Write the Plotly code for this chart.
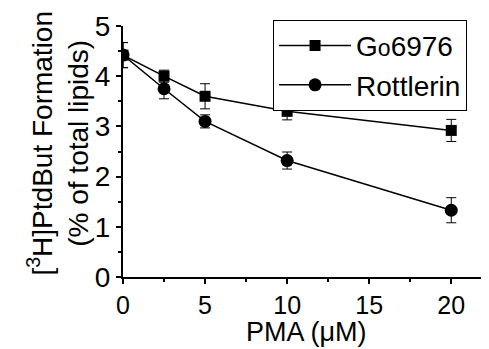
import plotly.graph_objects as go

pma = [0, 2.5, 5, 10, 20]
go6976 = [4.42, 4.0, 3.6, 3.3, 2.92]
go6976_err = [0.25, 0.12, 0.25, 0.17, 0.22]
rottlerin = [4.42, 3.75, 3.1, 2.32, 1.33]
rottlerin_err = [0.25, 0.2, 0.13, 0.17, 0.25]
x_ticks = [0, 5, 10, 15, 20]
y_ticks = [0, 1, 2, 3, 4, 5]

FONT = "Liberation Sans, Arial, sans-serif"

fig = go.Figure()
fig.add_trace(go.Scatter(
    x=pma, y=go6976, mode="lines+markers",
    name="G<span style='font-size:23px'>o</span>6976",
    line=dict(color="black", width=1.5),
    marker=dict(symbol="square", size=11, color="black"),
    error_y=dict(type="data", array=go6976_err, color="black", thickness=1, width=5),
))
fig.add_trace(go.Scatter(
    x=pma, y=rottlerin, mode="lines+markers", name="Rottlerin",
    line=dict(color="black", width=1.5),
    marker=dict(symbol="circle", size=13, color="black"),
    error_y=dict(type="data", array=rottlerin_err, color="black", thickness=1, width=5),
))

fig.update_layout(
    width=481, height=341,
    margin=dict(l=115, r=0, t=18, b=72),
    paper_bgcolor="white", plot_bgcolor="white",
    font=dict(family=FONT, color="black", size=28),
    showlegend=True,
    legend=dict(x=0.41, y=1.025, xanchor="left", yanchor="top",
                bordercolor="black", borderwidth=1, bgcolor="white",
                font=dict(size=28), itemwidth=72, tracegroupgap=0),
    xaxis=dict(range=[0, 22.3], showline=True, linecolor="black", linewidth=2,
               ticks="outside", ticklen=5, tickcolor="black", tickwidth=1.5,
               tickvals=x_ticks, showgrid=False, zeroline=False,
               minor=dict(ticks="outside", ticklen=3, tickcolor="black", dtick=2.5, tick0=0),
               tickfont=dict(size=25)),
    yaxis=dict(range=[0, 5], showline=True, linecolor="black", linewidth=2,
               ticks="outside", ticklen=5, tickcolor="black", tickwidth=1.5,
               tickvals=y_ticks, showgrid=False, zeroline=False,
               minor=dict(ticks="outside", ticklen=3, tickcolor="black", dtick=0.5, tick0=0),
               tickfont=dict(size=28)),
    annotations=[
        dict(text="[<sup>3</sup>H]PtdBut Formation<br>(% of total lipids)",
             xref="paper", yref="paper", x=-0.178, y=0.535,
             xanchor="center", yanchor="middle", textangle=-90,
             showarrow=False, font=dict(size=28)),
        dict(text="PMA (\u03bcM)",
             xref="paper", yref="paper", x=0.5, y=0,
             xanchor="center", yanchor="bottom", yshift=-72,
             showarrow=False, font=dict(size=27)),
    ],
)

fig.write_html("out.html")
